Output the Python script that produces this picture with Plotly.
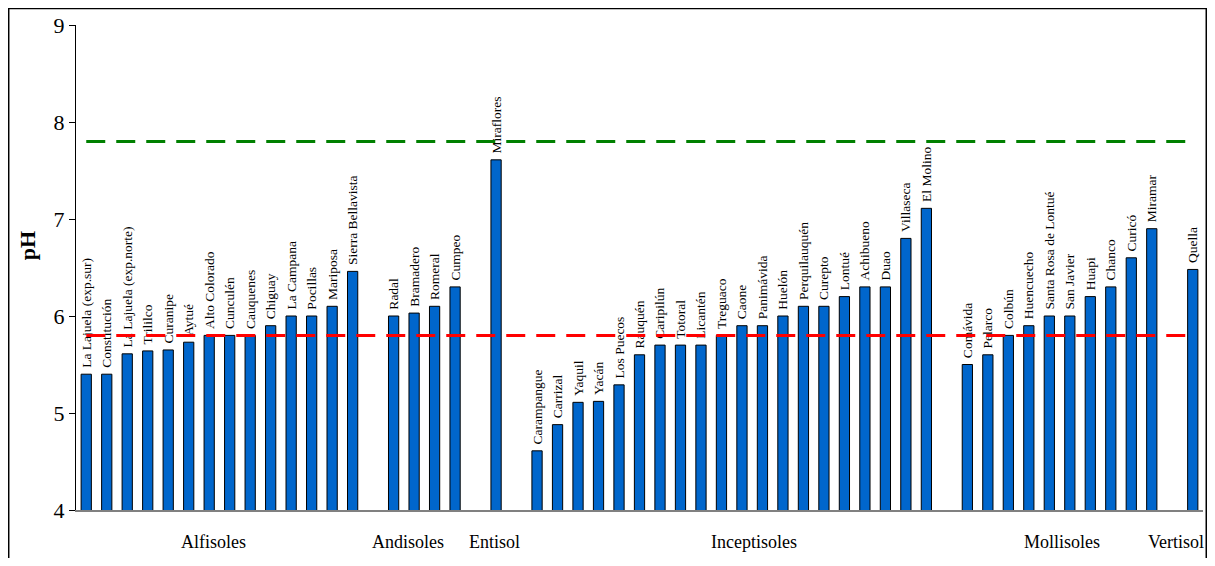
import plotly.graph_objects as go

# soil groups, site names and pH values
groups = ["Alfisoles", "Andisoles", "Entisol", "Inceptisoles", "Mollisoles", "Vertisol"]

alfisoles_sites = ["La Lajuela (exp.sur)", "Constitución", "La Lajuela (exp.norte)", "Trililco",
                   "Curanipe", "Aytué", "Alto Colorado", "Cunculén", "Cauquenes", "Chiguay",
                   "La Campana", "Pocillas", "Mariposa", "Sierra Bellavista"]
alfisoles_ph = [5.40, 5.40, 5.61, 5.64, 5.65, 5.73, 5.80, 5.80, 5.80, 5.90, 6.00, 6.00, 6.10, 6.46]

andisoles_sites = ["Radal", "Bramadero", "Romeral", "Cumpeo"]
andisoles_ph = [6.00, 6.03, 6.10, 6.30]

entisol_sites = ["Miraflores"]
entisol_ph = [7.61]

inceptisoles_sites = ["Carampangue", "Carrizal", "Yaquil", "Yacán", "Los Puecos", "Rauquén",
                      "Caripilún", "Totoral", "Licantén", "Treguaco", "Caone", "Panimávida",
                      "Huelón", "Perquilauquén", "Curepto", "Lontué", "Achibueno", "Duao",
                      "Villaseca", "El Molino"]
inceptisoles_ph = [4.61, 4.88, 5.11, 5.12, 5.29, 5.60, 5.70, 5.70, 5.70, 5.80, 5.90, 5.90,
                   6.00, 6.10, 6.10, 6.20, 6.30, 6.30, 6.80, 7.11]

mollisoles_sites = ["Comávida", "Pelarco", "Colbún", "Huencuecho", "Santa Rosa de Lontué",
                    "San Javier", "Huapi", "Chanco", "Curicó", "Miramar"]
mollisoles_ph = [5.50, 5.60, 5.80, 5.90, 6.00, 6.00, 6.20, 6.30, 6.60, 6.90]

vertisol_sites = ["Quella"]
vertisol_ph = [6.48]

upper_limit = 7.8
lower_limit = 5.8

group_sites = [alfisoles_sites, andisoles_sites, entisol_sites,
               inceptisoles_sites, mollisoles_sites, vertisol_sites]
group_ph = [alfisoles_ph, andisoles_ph, entisol_ph, inceptisoles_ph, mollisoles_ph, vertisol_ph]

# slot positions along the axis, one empty slot between groups
xs, names, vals = [], [], []
pos = 0
for sites, ph in zip(group_sites, group_ph):
    for s, v in zip(sites, ph):
        xs.append(pos)
        names.append("\u00a0" + s)  # small gap above the bar
        vals.append(v)
        pos += 1
    pos += 1
n_slots = pos - 1

# where the group captions sit (slot units)
group_label_x = [6.2, 15.7, 19.9, 32.6, 47.6, 53.2]

serif = "Liberation Serif, Times New Roman, serif"

fig = go.Figure()
fig.add_trace(go.Bar(
    x=xs, y=vals, base=0, width=0.5,
    marker=dict(color="#0066CC", line=dict(color="black", width=1)),
    text=names, textposition="outside", textangle=-90, constraintext="none",
    outsidetextfont=dict(family=serif, size=13.5, color="black"),
    cliponaxis=False, showlegend=False,
))

for lim, col in [(upper_limit, "#008000"), (lower_limit, "#FF0000")]:
    fig.add_trace(go.Scatter(
        x=[xs[0], xs[-1]], y=[lim, lim], mode="lines",
        line=dict(color=col, width=3, dash="19px,11px"),
        showlegend=False, hoverinfo="skip",
    ))

for g, gx in zip(groups, group_label_x):
    fig.add_annotation(x=gx, y=-0.065, xref="x", yref="paper", text=g, showarrow=False,
                       font=dict(family=serif, size=18, color="black"),
                       xanchor="center", yanchor="middle")

fig.add_annotation(x=-0.043, y=0.545, xref="paper", yref="paper", text="<b>pH</b>",
                   textangle=-90, showarrow=False, xanchor="center", yanchor="middle",
                   font=dict(family=serif, size=22, color="black"))

# outer frame, drawn along the edges of the figure
fig.add_shape(type="rect", xref="paper", yref="paper",
              x0=-0.0597, x1=1.0029, y0=-0.15, y1=1.034,
              line=dict(color="black", width=1.5), fillcolor="rgba(0,0,0,0)", layer="below")

# the page body adds an 8px offset, so the figure is a little smaller than the window
fig.update_layout(
    width=1199, height=550,
    margin=dict(l=68, r=4, t=17, b=48, autoexpand=False),
    plot_bgcolor="white", paper_bgcolor="white",
    font=dict(family=serif, color="black"),
    xaxis=dict(range=[-0.5, n_slots - 0.5], showticklabels=False, showgrid=False,
               zeroline=False, showline=True, linecolor="#808080", linewidth=2, ticks=""),
    yaxis=dict(range=[4, 9], tickvals=[4, 5, 6, 7, 8, 9], showgrid=False, zeroline=False,
               showline=True, linecolor="black", linewidth=1, ticks="outside", ticklen=6,
               tickcolor="black", tickfont=dict(family=serif, size=22, color="black")),
    bargap=0.5,
)

fig.write_html("out.html")
